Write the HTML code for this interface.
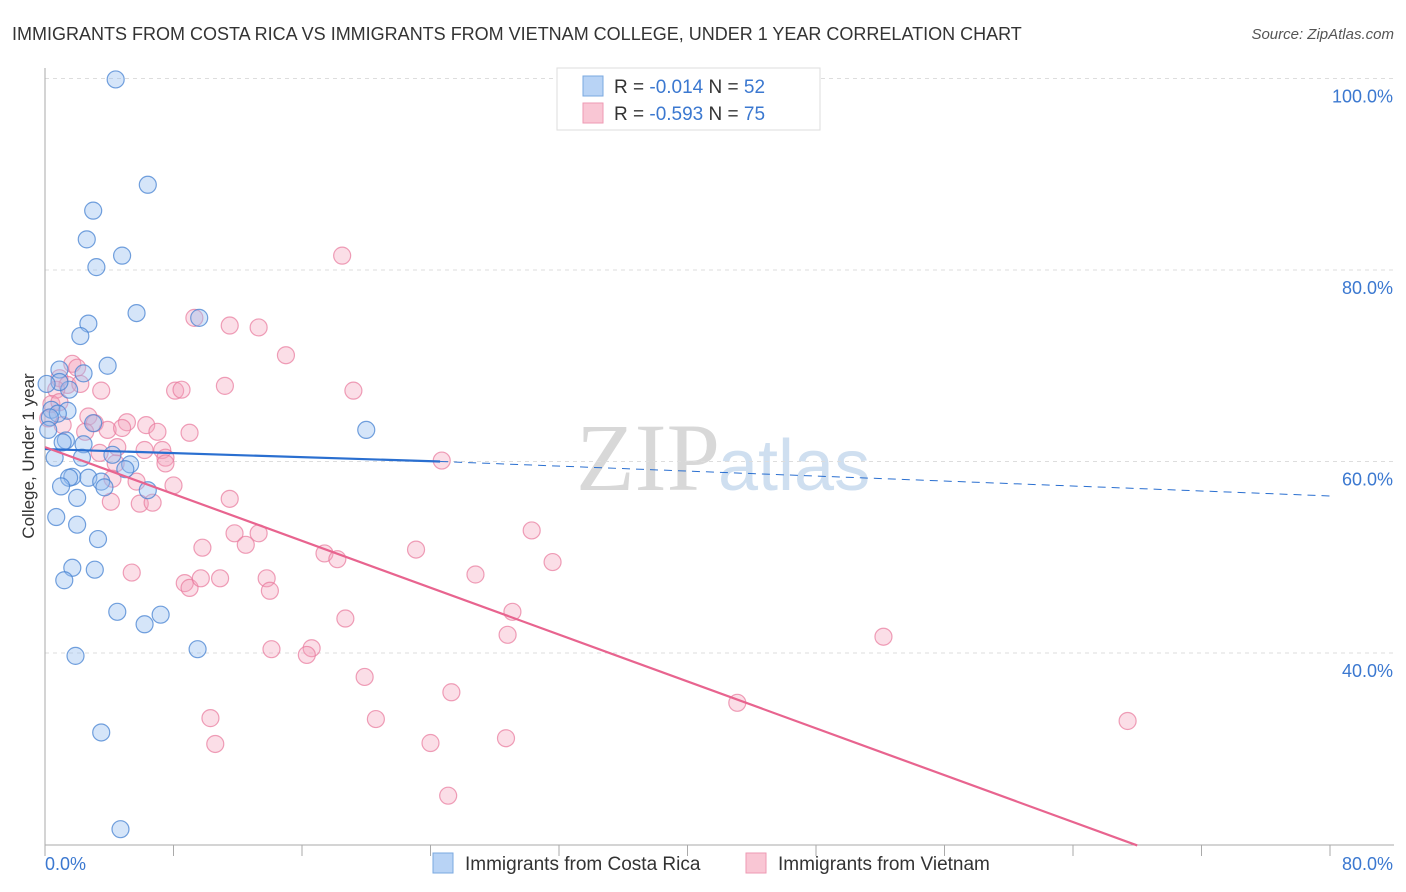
<!DOCTYPE html>
<html><head><meta charset="utf-8"><style>
body{margin:0;background:#fff;font-family:"Liberation Sans",sans-serif;}
svg{display:block}
</style></head><body>
<svg id="chart" width="1406" height="892" xmlns="http://www.w3.org/2000/svg">
<text x="12" y="40" font-size="18" fill="#333">IMMIGRANTS FROM COSTA RICA VS IMMIGRANTS FROM VIETNAM COLLEGE, UNDER 1 YEAR CORRELATION CHART</text>
<text x="1394" y="39" font-size="15" fill="#555" font-style="italic" text-anchor="end">Source: ZipAtlas.com</text>
<text x="720" y="490" font-size="96" fill="#d8d8d8" text-anchor="end" font-family="Liberation Serif,serif">ZIP</text>
<text x="718" y="490" font-size="72" fill="#cfdff0">atlas</text>
<g id="grid"></g>
<g id="axes"></g>
<g id="points"></g>
<g id="lines"></g>
<text transform="translate(34,456) rotate(-90)" font-size="17" fill="#333" text-anchor="middle">College, Under 1 year</text>
<g>
<rect x="557" y="68" width="263" height="62" fill="#fff" stroke="#ddd"/>
<rect x="583" y="76" width="20" height="20" fill="#b8d3f5" stroke="#7aa8e0"/>
<text x="614" y="93" font-size="19" fill="#333">R = <tspan fill="#3b78d0">-0.014</tspan>   N = <tspan fill="#3b78d0">52</tspan></text>
<rect x="583" y="103" width="20" height="20" fill="#f9c6d4" stroke="#ee9ab3"/>
<text x="614" y="120" font-size="19" fill="#333">R = <tspan fill="#3b78d0">-0.593</tspan>   N = <tspan fill="#3b78d0">75</tspan></text>
</g>
<g>
<rect x="433" y="853" width="20" height="20" fill="#b8d3f5" stroke="#7aa8e0"/>
<text x="465" y="870" font-size="19" fill="#333">Immigrants from Costa Rica</text>
<rect x="746" y="853" width="20" height="20" fill="#f9c6d4" stroke="#ee9ab3"/>
<text x="778" y="870" font-size="19" fill="#333">Immigrants from Vietnam</text>
</g>
</svg>
<script>
const xTickLabels=["0.0%","80.0%"];
const yTicks=[40,60,80,100];
const blueX=[4.4,6.4,3.0,2.6,4.8,3.2,5.7,9.6,2.7,2.2,3.9,0.9,2.4,1.5,0.9,0.1,0.4,1.4,0.8,0.3,0.2,3.0,1.3,1.1,2.4,0.6,2.3,4.2,5.3,5.0,1.7,1.5,2.7,3.5,3.7,1.0,6.4,2.0,0.7,2.0,3.3,1.7,3.1,1.2,4.5,7.2,6.2,1.9,9.5,20.0,3.5,4.7];
const blueY=[99.9,88.9,86.2,83.2,81.5,80.3,75.5,75.0,74.4,73.1,70.0,69.6,69.2,67.5,68.3,68.1,65.4,65.3,65.0,64.6,63.3,64.0,62.2,62.0,61.8,60.4,60.4,60.7,59.7,59.2,58.4,58.3,58.3,57.9,57.3,57.4,57.0,56.2,54.2,53.4,51.9,48.9,48.7,47.6,44.3,44.0,43.0,39.7,40.4,63.3,31.7,21.6];
const pinkX=[18.5,9.3,11.5,13.3,15.0,1.7,2.0,0.9,1.4,0.7,2.2,3.5,8.1,8.5,11.2,19.2,0.4,0.9,2.7,0.2,1.1,3.1,5.1,6.3,2.5,3.9,4.8,7.0,9.0,4.5,6.2,7.3,7.5,3.4,4.4,7.5,8.0,4.2,5.7,5.9,4.1,6.7,11.5,24.7,11.8,13.3,12.5,9.8,17.4,18.2,23.1,30.3,31.6,5.4,8.7,9.0,9.7,10.9,13.8,14.0,26.8,29.1,18.7,28.8,52.2,16.6,14.1,16.3,19.9,25.3,43.1,10.3,20.6,67.4,10.6,24.0,28.7,25.1];
const pinkY=[81.5,75.0,74.2,74.0,71.1,70.2,69.8,68.7,68.0,67.5,68.1,67.4,67.4,67.5,67.9,67.4,66.0,66.2,64.7,64.5,63.8,64.0,64.1,63.8,63.1,63.3,63.5,63.1,63.0,61.5,61.2,61.2,60.4,60.9,59.8,59.8,57.5,58.2,57.9,55.6,55.8,55.7,56.1,60.1,52.5,52.5,51.3,51.0,50.4,49.8,50.8,52.8,49.5,48.4,47.3,46.8,47.8,47.8,47.8,46.5,48.2,44.3,43.6,41.9,41.7,40.5,40.4,39.8,37.5,35.9,34.8,33.2,33.1,32.9,30.5,30.6,31.1,25.1];
const blueFit=[[0,61.3],[24.6,60.0],[80,56.4]];
const pinkFit=[[0,61.5],[68,19.9]];
const NS="http://www.w3.org/2000/svg";
const X0=45,X1=1330,YB=845;
const xs=v=>X0+v/80*(X1-X0);
const ys=v=>1036-v*9.575;
function mk(tag,attrs,parent){const e=document.createElementNS(NS,tag);for(const k in attrs)e.setAttribute(k,attrs[k]);parent.appendChild(e);return e;}
const grid=document.getElementById('grid'),axes=document.getElementById('axes'),pts=document.getElementById('points'),lines=document.getElementById('lines');
yTicks.forEach(t=>{
 const l=mk('line',{x1:X0,x2:1394,y1:ys(t),y2:ys(t),stroke:'#ddd','stroke-dasharray':'4,4'},grid);
 
 
 const tx=mk('text',{x:1393,y:ys(t)+24,'font-size':18,fill:'#3b78d0','text-anchor':'end'},axes);
 tx.textContent=t.toFixed(1)+'%';
 
 
});
const ya=mk('line',{x1:X0,x2:X0,y1:68,y2:YB,stroke:'#aaa'},axes);


const xa=mk('line',{x1:X0,x2:1394,y1:YB,y2:YB,stroke:'#aaa'},axes);


for(let i=0;i<=10;i++){
 const t=mk('line',{x1:xs(i*8),x2:xs(i*8),y1:YB,y2:YB+11,stroke:'#aaa'},axes);
 
 
}
const xl0=mk('text',{x:45,y:870,'font-size':18,fill:'#3b78d0'},axes);xl0.textContent=xTickLabels[0];


const xl1=mk('text',{x:1393,y:870,'font-size':18,fill:'#3b78d0','text-anchor':'end'},axes);xl1.textContent=xTickLabels[1];


pinkX.forEach((v,i)=>{
 const c=mk('circle',{cx:xs(v),cy:ys(pinkY[i]),r:8.5,fill:'rgba(244,160,185,0.35)',stroke:'rgba(232,120,155,0.7)','stroke-width':1.2},pts);
 
 
});
blueX.forEach((v,i)=>{
 const c=mk('circle',{cx:xs(v),cy:ys(blueY[i]),r:8.5,fill:'rgba(150,190,240,0.4)',stroke:'rgba(70,130,210,0.75)','stroke-width':1.2},pts);
 
 
});
const b1=mk('line',{x1:xs(blueFit[0][0]),y1:ys(blueFit[0][1]),x2:xs(blueFit[1][0]),y2:ys(blueFit[1][1]),stroke:'#2a6fd0','stroke-width':2.2},lines);


const b2=mk('line',{x1:xs(blueFit[1][0]),y1:ys(blueFit[1][1]),x2:xs(blueFit[2][0]),y2:ys(blueFit[2][1]),stroke:'#2a6fd0','stroke-width':1,'stroke-dasharray':'8,6'},lines);


const p1=mk('line',{x1:xs(pinkFit[0][0]),y1:ys(pinkFit[0][1]),x2:xs(pinkFit[1][0]),y2:ys(pinkFit[1][1]),stroke:'#e8648f','stroke-width':2.2},lines);


</script>
</body></html>
